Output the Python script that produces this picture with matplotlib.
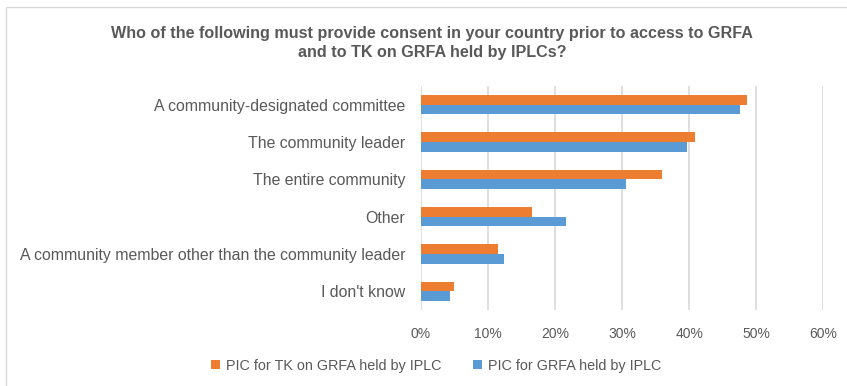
import matplotlib
matplotlib.use("Agg")
import matplotlib.pyplot as plt
from matplotlib.patches import Rectangle
from matplotlib.ticker import PercentFormatter, MultipleLocator

categories = [
    "A community-designated committee",
    "The community leader",
    "The entire community",
    "Other",
    "A community member other than the community leader",
    "I don't know",
]
pic_tk = [0.487, 0.409, 0.359, 0.166, 0.115, 0.050]
pic_grfa = [0.476, 0.397, 0.306, 0.216, 0.124, 0.044]
series_names = ["PIC for TK on GRFA held by IPLC", "PIC for GRFA held by IPLC"]

ORANGE = "#ED7D31"
BLUE = "#5B9BD5"
TEXT = "#595959"
GRID = "#D9D9D9"

plt.rcParams["font.family"] = ["Liberation Sans", "DejaVu Sans"]

fig = plt.figure(figsize=(8.47, 3.86), dpi=100)
# chart-area frame (left and top edges visible)
fig.patches.append(Rectangle((0.0065, -0.02), 1.2, 1.0006, transform=fig.transFigure,
                             fill=False, edgecolor=GRID, linewidth=1.0))

ax = fig.add_axes([0.4967, 0.1969, 0.4753, 0.5803])
h = 0.255
y = range(len(categories))
ax.barh([i - h / 2 for i in y], pic_tk, height=h, color=ORANGE, label=series_names[0])
ax.barh([i + h / 2 for i in y], pic_grfa, height=h, color=BLUE, label=series_names[1])

ax.set_xlim(0, 0.6)
ax.set_ylim(len(categories) - 0.5, -0.5)
ax.set_yticks(list(y))
ax.set_yticklabels(categories)
ax.xaxis.set_major_locator(MultipleLocator(0.1))
ax.xaxis.set_major_formatter(PercentFormatter(1.0, decimals=0))
ax.tick_params(axis="both", length=0, labelcolor=TEXT)
ax.tick_params(axis="y", pad=11, labelsize=11.4)
ax.tick_params(axis="x", pad=12, labelsize=10)
for s in ax.spines.values():
    s.set_visible(False)
ax.grid(axis="x", color=GRID, linewidth=1.2)
ax.set_axisbelow(True)

fig.text(0.51, 0.8886, "Who of the following must provide consent in your country prior to access to GRFA\nand to TK on GRFA held by IPLCs?",
         ha="center", va="center", color=TEXT, fontsize=11.6, fontweight="bold", linespacing=1.4)

fig.legend(loc="center", bbox_to_anchor=(0.515, 0.052), ncol=2, frameon=False,
           fontsize=10.4, handlelength=0.6, handleheight=0.6, columnspacing=2.2,
           handletextpad=0.4, labelcolor=TEXT)

fig.savefig("out.png", dpi=100)
